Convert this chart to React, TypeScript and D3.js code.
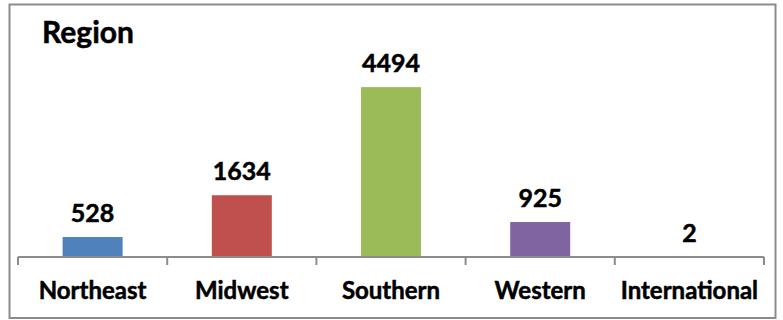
import React from "react";
import * as d3 from "d3";

const categories = ["Northeast", "Midwest", "Southern", "Western", "International"];
const values = [528, 1634, 4494, 925, 2];
const colors = ["#4F81BD", "#C0504D", "#9BBB59", "#8064A2", "#4BACC6"];
const title = "Region";

export default function App() {
  const W = 783, H = 320;
  const x = d3.scaleBand<string>().domain(categories).range([18, 764]).paddingInner(0).paddingOuter(0);
  const y = d3.scaleLinear().domain([0, 5000]).range([257, 68]);
  const barW = 60;
  const font = "Lato, 'Open Sans', sans-serif";
  const heavy = { stroke: "#000", strokeWidth: 0.5 };
  return (
    <svg width={W} height={H} style={{ position: "absolute", left: 0, top: 0 }}>
      <rect x={0} y={0} width={W} height={H} fill="#fff" />
      <rect x={9.5} y={4.5} width={766} height={313.5} fill="#fff" stroke="#8c8c8c" strokeWidth={2} />
      <text x={42} y={43} fontFamily={font} fontWeight={700} fontSize={30} fill="#000" {...heavy}>{title}</text>
      {categories.map((c, i) => {
        const cx = (x(c) as number) + x.bandwidth() / 2;
        const top = y(values[i]);
        return (
          <g key={c}>
            <rect x={cx - barW / 2} y={top} width={barW} height={y(0) - top} fill={colors[i]} />
            <text x={cx} y={top - 15} textAnchor="middle" fontFamily={font} fontWeight={700} fontSize={25} fill="#000" {...heavy}>{values[i]}</text>
            <text x={cx} y={299} textAnchor="middle" fontFamily={font} fontWeight={700} fontSize={24} fill="#000" {...heavy}>{c}</text>
          </g>
        );
      })}
      <line x1={18} x2={764} y1={257} y2={257} stroke="#8c8c8c" strokeWidth={2} />
      {[...categories.map((c) => x(c) as number), 764].map((t, i) => (
        <line key={i} x1={t} x2={t} y1={257} y2={265} stroke="#8c8c8c" strokeWidth={2} />
      ))}
    </svg>
  );
}
